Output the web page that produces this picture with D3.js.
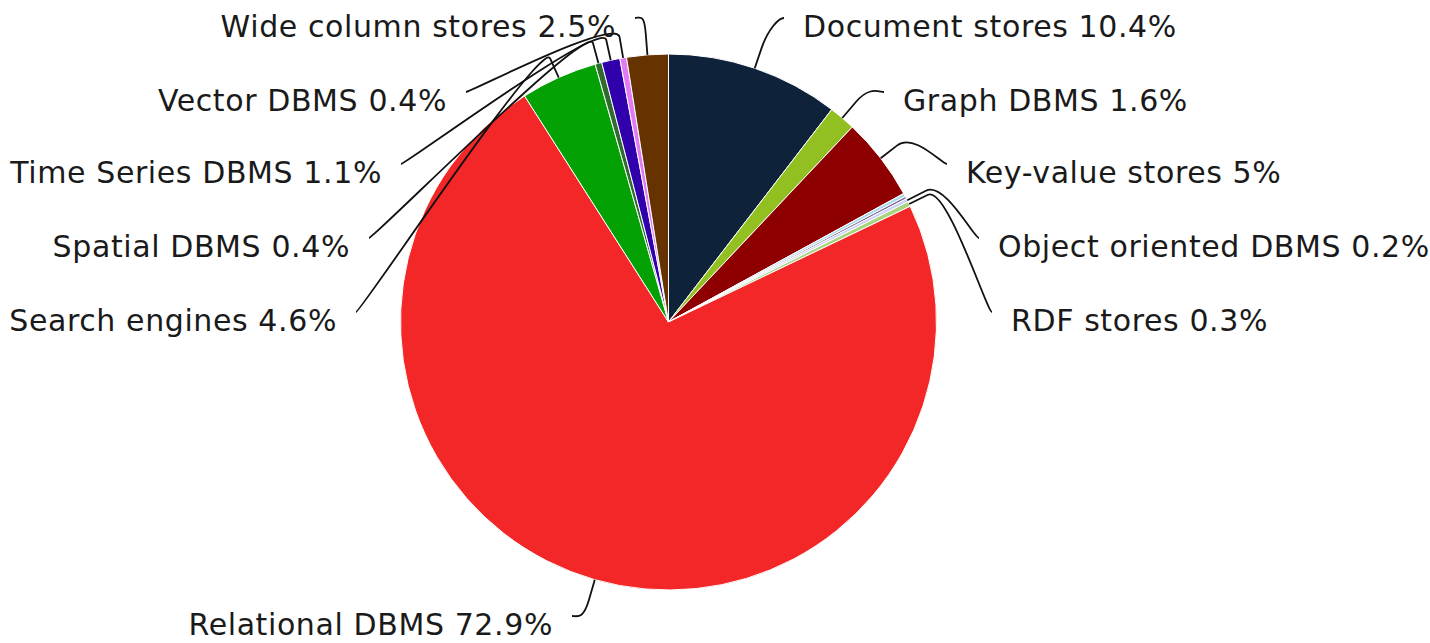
<!DOCTYPE html>
<html>
<head>
<meta charset="utf-8">
<script src="https://cdn.jsdelivr.net/npm/d3@7"></script>
<style>
body { margin: 0; background: #fff; }
</style>
</head>
<body>
<svg id="chart" width="1430" height="643"></svg>
<script>
// data
var categories = ["Document stores", "Graph DBMS", "Key-value stores", "Multivalue DBMS", "Native XML DBMS",
	"Object oriented DBMS", "RDF stores", "Relational DBMS", "Search engines", "Spatial DBMS",
	"Time Series DBMS", "Vector DBMS", "Wide column stores"];
var shares = [10.4, 1.6, 5, 0.2, 0.15, 0.2, 0.3, 72.9, 4.6, 0.4, 1.1, 0.4, 2.5];
var labelled = [true, true, true, false, false, true, true, true, true, true, true, true, true];
var colors = ["#0e223a", "#93c021", "#8e0000", "#a9d9ea", "#7f6fa6", "#cccff3", "#a9d47f",
	"#f32727", "#04a104", "#2f6b2f", "#3000ad", "#e37af5", "#663300"];

// where each label sits: side and vertical centre (layout, not data)
var labelLayout = {
	"Document stores":      {side: "right", x: 803, y: 26},
	"Graph DBMS":           {side: "right", x: 903, y: 100},
	"Key-value stores":     {side: "right", x: 966, y: 172},
	"Object oriented DBMS": {side: "right", x: 998, y: 246},
	"RDF stores":           {side: "right", x: 1011, y: 320},
	"Wide column stores":   {side: "left", x: 616, y: 26},
	"Vector DBMS":          {side: "left", x: 447, y: 100},
	"Time Series DBMS":     {side: "left", x: 382, y: 172},
	"Spatial DBMS":         {side: "left", x: 350, y: 246},
	"Search engines":       {side: "left", x: 337, y: 320},
	"Relational DBMS":      {side: "left", x: 553, y: 624}
};

var data = categories.map(function(c, i) {
	return {name: c, value: shares[i], color: colors[i], labelled: labelled[i]};
});

var cx = 668.5, cy = 322, radius = 268, breakOffset = 21, gap = 19;

var svg = d3.select("#chart");
var g = svg.append("g").attr("transform", "translate(" + cx + "," + cy + ")");

var pie = d3.pie()
	.sort(null)
	.value(function(d) { return d.value; });

var arc = d3.arc()
	.innerRadius(0)
	.outerRadius(radius);

var arcs = pie(data);

g.selectAll(".slice")
	.data(arcs)
	.enter().append("path")
	.attr("class", "slice")
	.attr("d", arc)
	.style("fill", function(d) { return d.data.color; })
	.style("stroke", "#fff")
	.style("stroke-width", 1)
	.style("stroke-linejoin", "round");

var pointAt = function(angle, r) {
	return [Math.sin(angle) * r, -Math.cos(angle) * r];
};

var withLabels = arcs.filter(function(d) { return d.data.labelled; });

// soft connectors, like the original chart library draws them
g.selectAll(".connector")
	.data(withLabels)
	.enter().append("path")
	.attr("class", "connector")
	.attr("fill", "none")
	.attr("stroke", "#111")
	.attr("stroke-width", 1.8)
	.attr("d", function(d) {
		var mid = (d.startAngle + d.endAngle) / 2;
		var touch = pointAt(mid, radius);
		var brk = pointAt(mid, radius + breakOffset);
		var lay = labelLayout[d.data.name];
		var lx = (lay.side == "right" ? lay.x - gap : lay.x + gap) - cx;
		var ly = lay.y - 8 - cy;
		var c1x = lx + (lay.side == "right" ? -5 : 5);
		var p = d3.path();
		p.moveTo(lx, ly);
		p.bezierCurveTo(c1x, ly, 2 * brk[0] - touch[0], 2 * brk[1] - touch[1], brk[0], brk[1]);
		p.lineTo(touch[0], touch[1]);
		return p.toString();
	});

svg.selectAll(".label")
	.data(withLabels)
	.enter().append("text")
	.attr("class", "label")
	.attr("x", function(d) { return labelLayout[d.data.name].x; })
	.attr("y", function(d) { return labelLayout[d.data.name].y; })
	.attr("dy", "0.36em")
	.attr("text-anchor", function(d) { return labelLayout[d.data.name].side == "right" ? "start" : "end"; })
	.style("font-family", "'DejaVu Sans', sans-serif")
	.style("font-size", "30px")
	.style("letter-spacing", "0.6px")
	.style("fill", "#1a1a1a")
	.text(function(d) { return d.data.name + " " + d.data.value + "%"; });
</script>
</body>
</html>
